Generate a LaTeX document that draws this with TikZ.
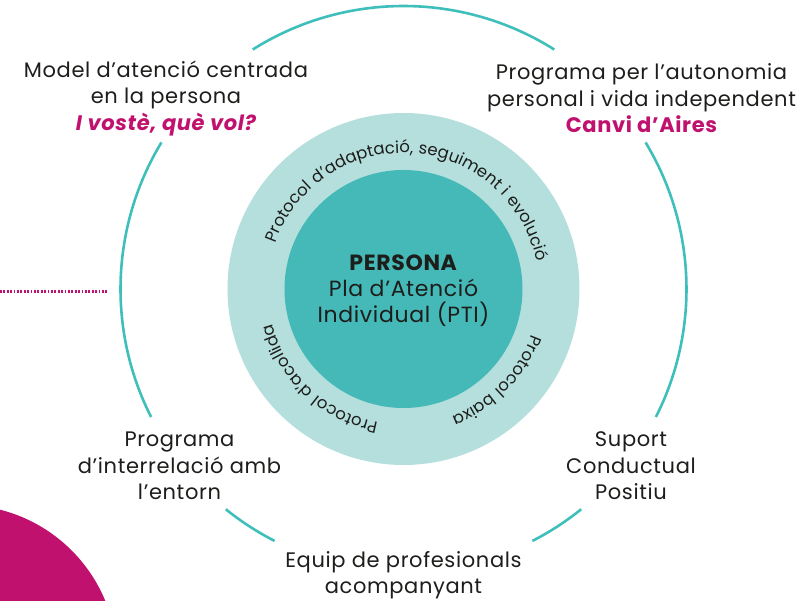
\documentclass[tikz,border=0pt]{standalone}
\usepackage{fontspec}
\setmainfont{Poppins}[LetterSpace=3]
\usetikzlibrary{decorations.text}
\definecolor{ink}{HTML}{1D1D1B}
\definecolor{ringlight}{HTML}{B4DFDD}
\definecolor{ringdark}{HTML}{45B9B7}
\definecolor{arcteal}{HTML}{3FBFBB}
\definecolor{accent}{HTML}{C1116F}
\begin{document}
\begin{tikzpicture}[x=1pt,y=1pt]
      \newcommand{\bigradius}[0]{283}
      \newcommand{\ringradius}[0]{176}
      \newcommand{\coreradius}[0]{119}
      \newcommand{\textradius}[0]{136}
      \newcommand{\labelfont}[0]{\fontsize{21}{26.5}\selectfont}
      \newcommand{\corefont}[0]{\fontsize{22}{26}\selectfont}
      \newcommand{\ringfont}[0]{\fontsize{16.5}{16.5}\selectfont}

      \coordinate (origo) at (0,0);
      \useasboundingbox (-403.5,-312) rectangle (403.5,289);

      \tikzstyle{label}=[
        align=center,
        text=ink,
        font=\labelfont,
      ]
      \tikzstyle{core}=[
        circle,
        fill=ringdark,
        minimum size=2*\coreradius,
      ]
      \tikzstyle{coretext}=[
        align=center,
        text=ink,
        font=\corefont,
      ]
      \tikzstyle{arc}=[
        draw=arcteal,
        line width=2.6pt,
      ]
      \tikzstyle{dots}=[
        draw=accent,
        line width=2.2pt,
        dash pattern=on 1.9pt off 1.5pt,
      ]
      \tikzstyle{ringtext}=[
        decorate,
        decoration={text along path, text align=center, text color=ink},
      ]

      % corner blob and dotted lead
      \begin{scope}
        \clip (-403.5,-312) rectangle (403.5,289);
        \fill[accent] (-441.5,-371) circle (155);
      \end{scope}
      \coordinate (leadstart) at (-403.5,-2.5);
      \coordinate (leadend) at (-295.5,-2.5);
      \draw[dots] (leadstart) -- (leadend);

      % outer circle pieces
      {
        \draw[arc] (57.8:\bigradius) arc[start angle=57.8, end angle=122.2, radius=\bigradius];
        \draw[arc] (148.8:\bigradius) arc[start angle=148.8, end angle=206.9, radius=\bigradius];
        \draw[arc] (231.1:\bigradius) arc[start angle=231.1, end angle=242.9, radius=\bigradius];
        \draw[arc] (297.1:\bigradius) arc[start angle=297.1, end angle=308.9, radius=\bigradius];
        \draw[arc] (-26.9:\bigradius) arc[start angle=-26.9, end angle=31.2, radius=\bigradius];
      }

      % ring and person
      {
        \fill[ringlight] (origo) circle (\ringradius);
        \node[core] (persona) at (origo) {};
        \node[coretext] (pti) at ([yshift=-2] persona.center)
          {\textbf{PERSONA}\\Pla d’Atenció\\Individual (PTI)};

        \path[ringtext, decoration={text={|\ringfont|Protocol d’adaptació, seguiment i evolució}}]
          (176:\textradius) arc[start angle=176, end angle=-4, radius=\textradius];
        \path[ringtext, decoration={text={|\ringfont|Protocol d’acollida}}]
          (277:\textradius) arc[start angle=277, end angle=177, radius=\textradius];
        \path[ringtext, decoration={text={|\ringfont|Protocol baixa}}]
          (360:\textradius) arc[start angle=360, end angle=271, radius=\textradius];
      }

      % labels round the circle
      \node[label] (model) at (-237.5,190.5)
        {Model d’atenció centrada\\en la persona\\{\color{accent}\bfseries\itshape I vostè, què vol?}};
      \node[label] (autonomia) at (238,190.5)
        {Programa per l’autonomia\\personal i vida independent\\{\color{accent}\bfseries Canvi d’Aires}};
      \node[label] (entorn) at (-224,-177)
        {Programa\\d’interrelació amb\\l’entorn};
      \node[label] (suport) at (227.5,-177)
        {Suport\\Conductual\\Positiu};
      \node[label] (equip) at (0,-286)
        {Equip de profesionals\\acompanyant};
    \end{tikzpicture}
\end{document}
